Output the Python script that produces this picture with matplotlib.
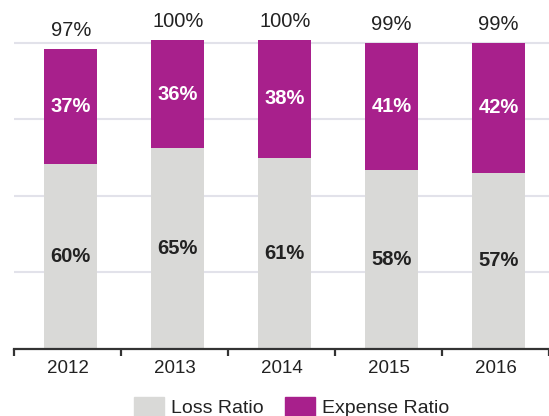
import numpy as np
import matplotlib
matplotlib.use('Agg')
from matplotlib import pyplot as plt
from matplotlib.patches import Patch

plt.rcParams['font.family'] = ['Liberation Sans', 'DejaVu Sans']

years = ['2012', '2013', '2014', '2015', '2016']
# bar heights (labels are the rounded figures)
loss = [60.5, 65.5, 62.5, 58.5, 57.5]
expense = [37.5, 35.5, 38.5, 41.5, 42.5]
loss_labels = ['60%', '65%', '61%', '58%', '57%']
expense_labels = ['37%', '36%', '38%', '41%', '42%']
total_labels = ['97%', '100%', '100%', '99%', '99%']

grey = '#d9d9d7'
purple = '#a8208c'
dark = '#222222'

fig = plt.figure(figsize=(5.49, 4.16), dpi=100)
ax = fig.add_axes([14/549, 67/416, 535/549, 349/416])

x = np.arange(len(years)) + 0.03
w = 0.49
ax.bar(x, loss, w, color=grey, zorder=2)
ax.bar(x, expense, w, bottom=loss, color=purple, zorder=2)

for i in range(len(years)):
    ax.text(x[i], loss[i]/2, loss_labels[i], ha='center', va='center',
            fontsize=14.5, fontweight='bold', color=dark, zorder=3)
    ax.text(x[i], loss[i] + expense[i]/2, expense_labels[i], ha='center', va='center',
            fontsize=14.5, fontweight='bold', color='white', zorder=3)
    ax.annotate(total_labels[i], (x[i], loss[i] + expense[i]), xytext=(0, 13),
                textcoords='offset points', ha='center', va='center',
                fontsize=14.5, color=dark)

ax.set_xlim(-0.5, 4.5)
ax.set_ylim(0, 114)
for g in [25, 50, 75, 100]:
    ax.axhline(g, color='#e2e2ea', lw=1.5, zorder=1)

for s in ['top', 'right', 'left']:
    ax.spines[s].set_visible(False)
ax.spines['bottom'].set_color('#333333')
ax.spines['bottom'].set_linewidth(1.6)
ax.set_yticks([])
ax.set_xticks(np.arange(len(years)))
ax.set_xticklabels(years, fontsize=13.5, color=dark)
ax.tick_params(axis='x', which='major', length=0, pad=8)
ax.set_xticks(np.arange(-0.5, 5, 1), minor=True)
ax.tick_params(axis='x', which='minor', length=5, width=1.6, color='#333333', direction='out')

handles = [Patch(color=grey, label='Loss Ratio'), Patch(color=purple, label='Expense Ratio')]
fig.legend(handles=handles, loc='center', bbox_to_anchor=(292/549, 1 - 407/416), ncol=2,
           frameon=False, fontsize=14, handlelength=1.5, handleheight=1.1,
           handletextpad=0.4, columnspacing=1.1, labelcolor=dark)

fig.savefig('out.png', dpi=100)
